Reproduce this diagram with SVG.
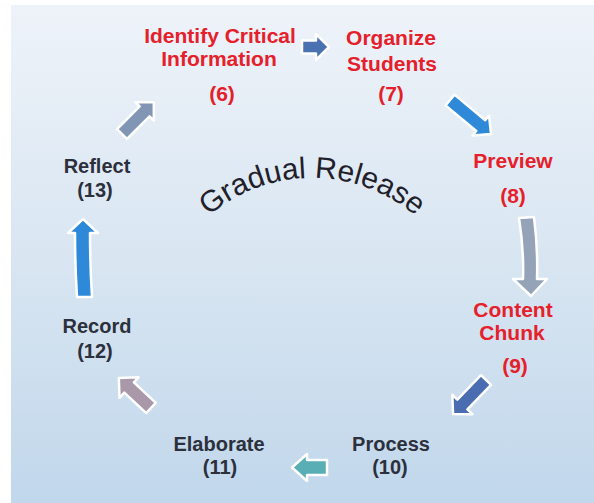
<svg xmlns="http://www.w3.org/2000/svg" width="594" height="503" viewBox="0 0 594 503">
  <defs>
    <linearGradient id="bg" x1="0" y1="0" x2="0" y2="1">
      <stop offset="0" stop-color="#eef3f9"/>
      <stop offset="0.5" stop-color="#d9e6f2"/>
      <stop offset="1" stop-color="#c1d7eb"/>
    </linearGradient>
    <path id="arc" d="M173.4,258 A160,160 0 0,1 450.6,258"/>
    <style>
      .step { font-family: "Liberation Sans", Arial, sans-serif; font-weight: bold; text-anchor: middle; }
      .hot { fill: #e6202b; font-size: 21px; }
      .cool { fill: #2c303c; font-size: 20px; }
      .title { font-family: "Liberation Sans", Arial, sans-serif; font-size: 30px; fill: #1f2029; }
      .arrow { stroke: #ffffff; stroke-width: 2.5; stroke-linejoin: round; }
    </style>
  </defs>

  <!-- backdrop panel -->
  <rect x="0" y="0" width="594" height="503" fill="#ffffff"/>
  <rect x="11" y="5" width="583" height="498" fill="url(#bg)"/>

  <!-- centre title set on an arc -->
  <text class="title"><textPath href="#arc" startOffset="50%" text-anchor="middle">Gradual Release</textPath></text>

  <!-- cycle steps -->
  <g id="n6">
    <text class="step hot" x="220" y="43">Identify Critical</text>
    <text class="step hot" x="219" y="66">Information</text>
    <text class="step hot" x="222" y="101">(6)</text>
  </g>
  <g id="n7">
    <text class="step hot" x="391" y="45">Organize</text>
    <text class="step hot" x="392" y="71">Students</text>
    <text class="step hot" x="391" y="101">(7)</text>
  </g>
  <g id="n8">
    <text class="step hot" x="513" y="168">Preview</text>
    <text class="step hot" x="513" y="203">(8)</text>
  </g>
  <g id="n9">
    <text class="step hot" x="513" y="317">Content</text>
    <text class="step hot" x="512" y="340">Chunk</text>
    <text class="step hot" x="515" y="373">(9)</text>
  </g>
  <g id="n10">
    <text class="step cool" x="391" y="451">Process</text>
    <text class="step cool" x="390" y="474">(10)</text>
  </g>
  <g id="n11">
    <text class="step cool" x="219" y="451">Elaborate</text>
    <text class="step cool" x="220" y="474">(11)</text>
  </g>
  <g id="n12">
    <text class="step cool" x="97" y="333">Record</text>
    <text class="step cool" x="95" y="358">(12)</text>
  </g>
  <g id="n13">
    <text class="step cool" x="97" y="173">Reflect</text>
    <text class="step cool" x="95" y="197">(13)</text>
  </g>

  <!-- block arrows between steps -->
  <g id="connectors">
    <!-- 6 to 7 -->
    <path class="arrow" fill="#4b72b0" d="M302,40.5 H316 V34 L329,47 L316,60 V53.5 H302 Z"/>
    <!-- 7 to 8 -->
    <path class="arrow" fill="#2e8ad8" transform="translate(450,100) rotate(39.7)" d="M0,-7 H40 V-13 L53.3,0 L40,13 V7 H0 Z"/>
    <!-- 8 to 9 -->
    <path class="arrow" fill="#95a3b9" d="M519,218 Q524,250 523,279 L513,279 L531,296 L547,279 L537,279 Q538,248 534,217 Z"/>
    <!-- 9 to 10 -->
    <path class="arrow" fill="#4a6cb0" transform="translate(486,380) rotate(134)" d="M0,-7 H34 V-14 L47.4,0 L34,14 V7 H0 Z"/>
    <!-- 10 to 11 -->
    <path class="arrow" fill="#58aeb4" d="M327,460 H307 V454 L292,467.5 L307,481 V475 H327 Z"/>
    <!-- 11 to 12 -->
    <path class="arrow" fill="#a898a9" transform="translate(151,408) rotate(223)" d="M0,-7 H30 V-14 L44,0 L30,14 V7 H0 Z"/>
    <!-- 12 to 13 -->
    <path class="arrow" fill="#2e8ad8" d="M77,297 Q75,265 75,233 L68,233 L83,219 L98,233 L90,233 Q90,265 92,297 Z"/>
    <!-- 13 to 6 -->
    <path class="arrow" fill="#8195b4" transform="translate(122,134) rotate(-45)" d="M0,-7 H32 V-13 L45,0 L32,13 V7 H0 Z"/>
  </g>
</svg>
